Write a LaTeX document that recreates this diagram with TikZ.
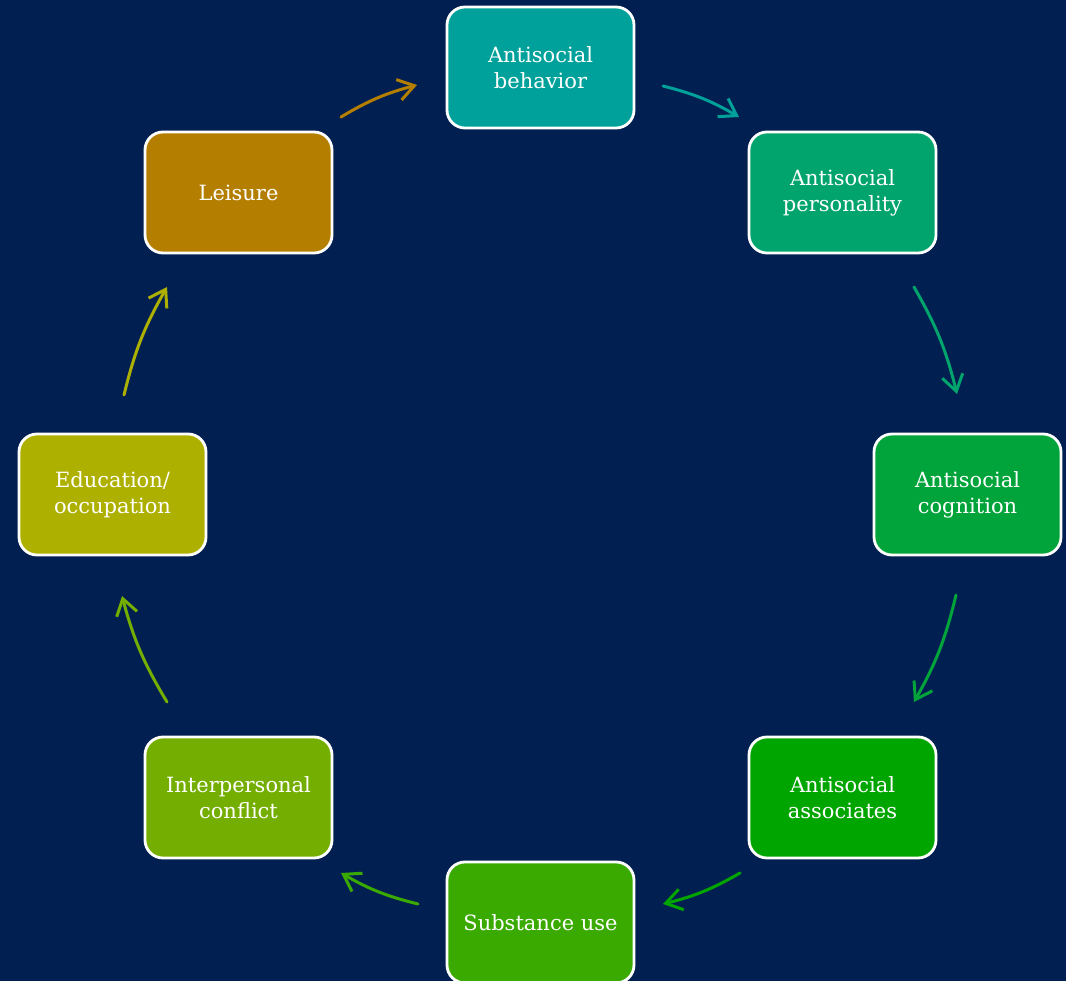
\documentclass[tikz,border=0pt]{standalone}
\usepackage{fontspec}
\setmainfont{DejaVu Serif}
\usetikzlibrary{arrows.meta}
\definecolor{bg}{HTML}{012051}
\definecolor{cA}{HTML}{00A19A}
\definecolor{cB}{HTML}{00A46C}
\definecolor{cC}{HTML}{00A43A}
\definecolor{cD}{HTML}{00A500}
\definecolor{cE}{HTML}{3AAA00}
\definecolor{cF}{HTML}{74AE00}
\definecolor{cG}{HTML}{AEB000}
\definecolor{cH}{HTML}{B47F00}
\begin{document}
\begin{tikzpicture}[x=1pt,y=-1pt,
  box/.style={draw=white, line width=2.8pt, rounded corners=18pt,
    minimum width=187pt, minimum height=121pt, text=white, align=center,
    font=\fontsize{21}{26}\selectfont, inner sep=0pt},
  arr/.style={line width=3pt, line cap=round,
    -{Straight Barb[length=16pt,width=21pt,line width=3pt]}}]
\useasboundingbox[fill=bg] (0,0) rectangle (1066,981);
\node[box, fill=cA] (beh) at (540.5,67.5) {Antisocial\\behavior};
\node[box, fill=cB] (per) at (842.5,192.5) {Antisocial\\personality};
\node[box, fill=cC] (cog) at (967.5,494.5) {Antisocial\\cognition};
\node[box, fill=cD] (ass) at (842.5,797.5) {Antisocial\\associates};
\node[box, fill=cE] (sub) at (540.5,922.5) {Substance use};
\node[box, fill=cF] (int) at (238.5,797.5) {Interpersonal\\conflict};
\node[box, fill=cG] (edu) at (112.5,494.5) {Education/\\occupation};
\node[box, fill=cH] (lei) at (238.5,192.5) {Leisure};
\coordinate (a1s) at (663,86);  \coordinate (a1e) at (739,117);
\coordinate (a2s) at (914,287); \coordinate (a2e) at (957,394);
\coordinate (a3s) at (956,595); \coordinate (a3e) at (914,702);
\coordinate (a4s) at (740,873); \coordinate (a4e) at (663,904);
\coordinate (a5s) at (418,904); \coordinate (a5e) at (341,873);
\coordinate (a6s) at (167,702); \coordinate (a6e) at (122,596);
\coordinate (a7s) at (124,395); \coordinate (a7e) at (167,287);
\coordinate (a8s) at (341,117); \coordinate (a8e) at (417,85);
\draw[arr, cA] (a1s) to[bend left=8] (a1e);
\draw[arr, cB] (a2s) to[bend left=8] (a2e);
\draw[arr, cC] (a3s) to[bend left=8] (a3e);
\draw[arr, cD] (a4s) to[bend left=8] (a4e);
\draw[arr, cE] (a5s) to[bend left=8] (a5e);
\draw[arr, cF] (a6s) to[bend left=8] (a6e);
\draw[arr, cG] (a7s) to[bend left=8] (a7e);
\draw[arr, cH] (a8s) to[bend left=8] (a8e);
\end{tikzpicture}
\end{document}
